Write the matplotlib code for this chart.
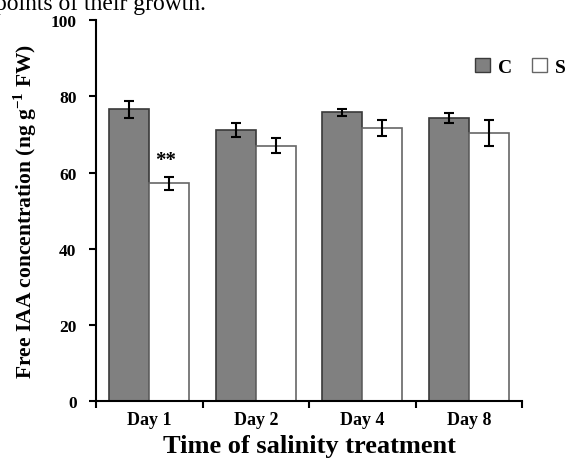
import numpy as np
import matplotlib.pyplot as plt
from matplotlib.patches import Patch

days = ['Day 1', 'Day 2', 'Day 4', 'Day 8']
control = [76.6, 71.2, 75.8, 74.2]
control_err = [2.2, 1.9, 0.9, 1.3]
salt = [57.2, 67.0, 71.7, 70.3]
salt_err = [1.7, 2.0, 2.0, 3.4]
yticks = [0, 20, 40, 60, 80, 100]

plt.rcParams['font.family'] = ['Liberation Serif', 'DejaVu Serif']
plt.rcParams['font.weight'] = 'bold'

fig = plt.figure(figsize=(5.65, 4.6), dpi=100)
ax = fig.add_axes([0.170, 0.126, 0.754, 0.828])

x = np.arange(len(days))
w = 0.375
ax.bar(x - w / 2, control, w, color='#808080', edgecolor='#3a3a3a', linewidth=1.2, zorder=2)
ax.bar(x + w / 2, salt, w, color='white', edgecolor='#666666', linewidth=1.2, zorder=2)
ax.errorbar(x - w / 2, control, yerr=control_err, fmt='none', ecolor='black',
            elinewidth=1.5, capsize=3.5, capthick=1.5, zorder=3)
ax.errorbar(x + w / 2, salt, yerr=salt_err, fmt='none', ecolor='black',
            elinewidth=1.5, capsize=3.5, capthick=1.5, zorder=3)

# significance mark over day 1 salt bar
ax.text(x[0] + w / 2 - 0.03, salt[0] + salt_err[0] + 4.5, '**', ha='center', va='center',
        fontsize=15, fontweight='bold')

ax.set_xlim(-0.5, len(days) - 0.5)
ax.set_ylim(0, 100)
ax.set_yticks(yticks)
ax.set_yticklabels([str(t) for t in yticks], fontsize=12.5, fontweight='bold')

# ticks sit between groups, labels under group centres
ax.set_xticks(np.arange(len(days) + 1) - 0.5)
ax.set_xticklabels([])
ax.set_xticks(x, minor=True)
ax.set_xticklabels(days, minor=True, fontsize=13, fontweight='bold')
ax.tick_params(axis='x', which='minor', length=0, pad=7)
ax.tick_params(axis='both', which='major', direction='out', length=5, width=1.5)
ax.tick_params(axis='y', pad=9)

for side in ['top', 'right']:
    ax.spines[side].set_visible(False)
for side in ['left', 'bottom']:
    ax.spines[side].set_linewidth(1.5)

ax.set_xlabel('Time of salinity treatment', fontsize=19, fontweight='bold')
ax.xaxis.set_label_coords(0.5, -0.086)
ax.set_ylabel('Free IAA concentration (ng g$^{\\mathregular{-1}}$ FW)', fontsize=15.5,
              fontweight='bold')
ax.yaxis.set_label_coords(-0.134, 0.5)

handles = [Patch(facecolor='#808080', edgecolor='#3a3a3a'),
           Patch(facecolor='white', edgecolor='#666666')]
fig.legend(handles, ['C', 'S'], loc='center', bbox_to_anchor=(0.921, 0.853), ncol=2,
           frameon=False, handlelength=0.8, handleheight=0.8, handletextpad=0.4,
           columnspacing=1.0, prop={'weight': 'bold', 'size': 14})

fig.text(-0.008, 0.978, 'points of their growth.', fontsize=17, fontweight='normal',
         va='baseline', ha='left')

fig.savefig('out.png', dpi=100)
